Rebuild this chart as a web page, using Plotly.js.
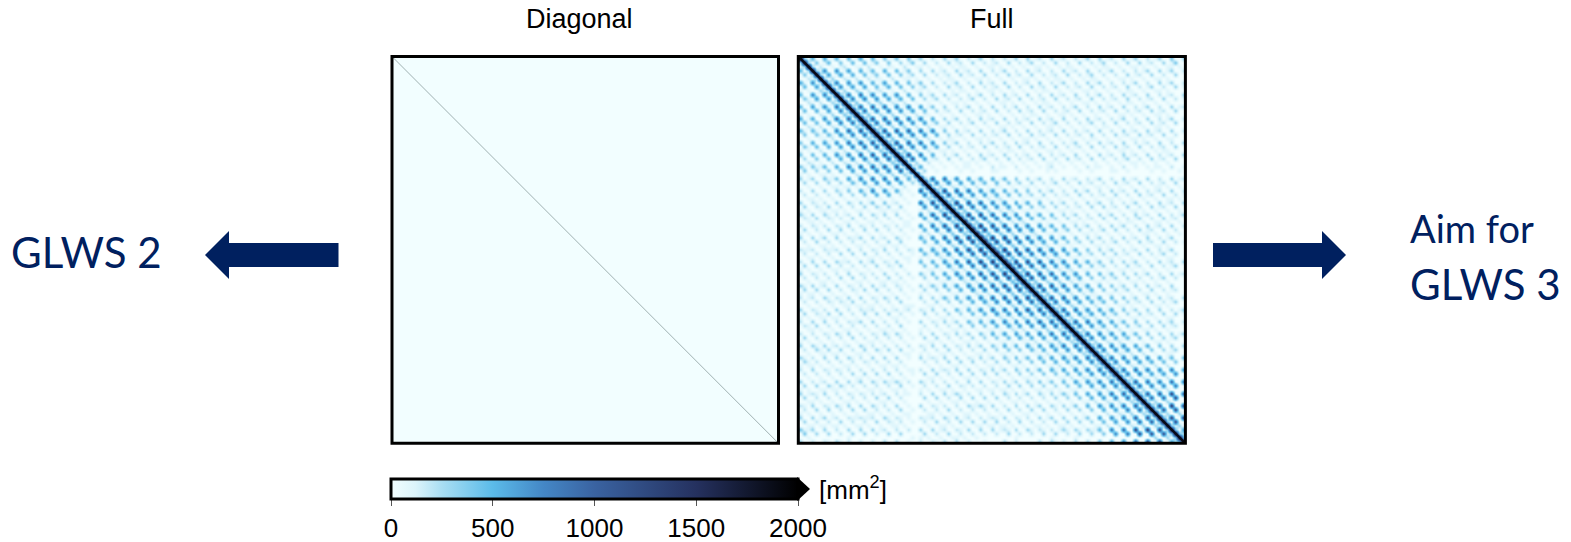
<!DOCTYPE html>
<html>
<head>
<meta charset="utf-8">
<script src="https://cdn.plot.ly/plotly-3.0.1.min.js"></script>
<style>html,body{margin:0;padding:0;background:#fff}#chart{width:1571px;height:542px}</style>
</head>
<body>
<div id="chart"></div>
<script>
// Panel titles and side labels
const panelTitles = ["Diagonal", "Full"];
const leftLabel = "GLWS 2";
const rightLabels = ["Aim for", "GLWS 3"];
const unitLabel = "[mm<sup>2</sup>]";
const colorTicks = [0, 500, 1000, 1500, 2000];

const matrixSize = 97;
const diagonalBackground = 0;
const diagonalLineEnds = [-0.5, 96.5];

// Upper triangle of the "Full" matrix.
// One base-36 character per cell, in hundreds of mm^2 (k = 2000). Each row starts on the diagonal.
const fullUpperRows = [
"k31 500 601 500 501 600 500 401 400 401 300 200 301 300 201 300 200 201 300 301 200 301 200 201 300 301 200 301 300 201 300 400 3",
"k30 401 500 400 500 501 400 400 301 400 300 200 301 200 300 201 200 300 201 300 200 300 200 300 201 300 200 300 301 200 301 400",
"k30 200 101 200 110 200 101 100 200 110 100 100 101 100 100 110 100 100 100 110 100 101 100 100 101 100 100 110 100 100 110 10",
"k31 800 801 700 601 500 600 501 400 300 301 200 301 200 300 201 300 200 301 200 200 301 200 300 201 300 200 201 300 301 300 2",
"k30 701 700 600 501 400 500 401 300 300 201 200 301 200 300 200 301 200 300 201 200 300 201 300 200 200 301 200 300 200 300",
"k30 300 210 200 201 100 200 110 100 100 101 100 100 110 100 100 100 110 100 101 100 100 101 100 100 110 100 100 110 1",
"k41 900 801 800 601 700 600 501 400 300 201 300 200 301 200 300 201 200 300 201 300 200 301 300 200 201 300 200 301 300 200",
"k30 801 700 700 501 600 500 401 300 200 301 200 300 201 200 300 200 301 200 300 201 200 300 201 200 300 201 300 200 301",
"k30 300 310 201 200 100 200 110 100 100 101 100 100 110 100 100 100 101 100 100 100 110 100 100 101 100 100 110 100",
"k41 a00 a01 900 801 800 600 401 300 301 200 201 300 200 301 200 300 200 301 200 300 201 300 200 301 200 300 201 200 301",
"k30 901 900 800 701 600 500 301 300 200 201 300 200 301 200 300 201 200 300 201 200 300 201 200 300 201 200 300 201",
"k40 400 301 300 210 200 100 100 100 110 100 100 100 110 100 100 101 100 100 100 110 100 100 101 100 100 100 100",
"k41 b00 b01 a00 901 900 701 400 300 201 300 200 300 201 300 200 301 200 201 300 200 301 200 300 201 300 200 301 200",
"k40 a01 900 900 801 700 500 301 200 300 201 200 300 200 301 200 300 201 200 300 201 200 300 201 200 301 200 300",
"k40 400 310 300 200 201 100 100 100 100 110 100 100 100 101 100 100 110 100 100 100 100 110 100 100 110 100",
"k51 c00 b01 b00 a01 900 600 301 300 200 301 200 300 201 200 301 200 300 200 301 200 201 300 200 300 201 300 200",
"k40 a01 a00 900 800 701 400 300 201 300 200 300 201 200 300 201 300 200 201 300 200 300 201 200 301 200 300",
"k40 400 301 300 200 200 110 100 100 100 100 110 100 100 100 110 100 100 100 101 100 100 100 100 110 100",
"k51 c00 c01 b00 a01 900 400 301 200 300 201 300 200 300 201 200 300 201 200 300 200 301 200 301 200 300 201",
"k40 b00 a01 900 800 600 301 200 300 201 200 300 200 301 200 300 201 200 300 200 301 200 301 200 300 200",
"k40 400 310 300 200 101 100 100 110 100 100 100 110 100 100 100 100 101 100 100 100 110 100 100 110",
"k51 c00 b01 a00 800 401 300 200 201 300 200 301 200 300 200 201 300 200 301 200 300 201 200 300 200 301",
"k40 b01 900 801 600 300 201 200 300 201 200 300 201 200 300 201 200 300 200 301 200 300 201 200 300",
"k40 400 300 200 110 100 100 100 100 101 100 100 100 110 100 100 100 100 100 110 100 100 101 100",
"k51 c00 a00 600 201 300 200 301 200 300 201 200 300 201 200 300 200 301 200 301 200 300 201 200 300",
"k40 b00 701 200 300 200 201 300 200 300 201 200 300 200 301 200 300 200 201 300 200 301 200 300",
"k30 300 200 100 100 110 100 100 100 100 100 100 110 100 100 100 100 100 100 110 100 100 100",
"k31 600 100 100 101 100 100 201 100 200 100 101 200 100 100 201 100 100 200 100 101 100 200 100",
"k20 300 100 000 100 100 001 100 000 100 100 010 100 000 100 100 001 100 100 000 100 100 010",
"k30 000 000 000 000 000 000 000 000 000 000 000 000 000 000 000 000 000 000 000 000 000 000",
"k41 b00 a01 800 701 600 601 500 400 301 300 200 301 200 201 300 200 301 200 300 200 301 200",
"k40 901 800 700 601 500 500 401 300 300 201 300 200 301 200 200 301 200 300 201 200 300 201",
"k30 300 210 200 200 101 100 100 110 100 100 100 100 100 110 100 100 100 100 110 100 100 100",
"k51 d00 b01 a00 801 700 601 500 400 301 300 200 301 300 200 301 200 300 201 200 300 201",
"k40 b01 a00 800 701 600 500 401 300 300 201 200 300 201 200 300 200 301 200 300 201 300",
"k40 400 310 200 201 200 100 100 110 100 100 100 100 100 110 100 100 100 100 110 100 100",
"k51 e00 c01 b00 901 800 701 600 500 301 300 200 301 300 200 201 300 200 301 200 300",
"k40 c01 a00 900 801 700 600 401 300 300 201 200 300 301 200 300 200 301 200 300 201",
"k40 400 410 300 201 200 110 100 100 110 100 100 100 100 100 110 100 100 100 100 110",
"k51 e00 d01 b00 a01 900 701 600 500 301 300 200 301 300 200 301 200 300 201 300",
"k40 c01 b00 a00 801 700 600 401 300 300 201 200 300 300 201 300 200 301 200 300",
"k40 400 410 300 201 200 110 100 100 110 100 100 100 101 100 100 110 100 100",
"k51 f00 d01 c00 a01 900 801 600 500 301 300 200 301 300 200 301 200 300 201",
"k40 d01 b00 a00 901 800 600 501 400 300 201 300 300 200 301 200 300 200",
"k50 500 410 300 201 200 110 100 100 110 100 100 100 100 110 100 100 100",
"k61 f00 e01 c00 b01 900 801 600 400 301 300 200 301 200 300 201 300",
"k50 d01 c00 a00 901 700 600 401 300 300 201 300 200 301 200 300 201",
"k50 500 410 300 201 200 110 100 100 110 100 100 100 100 110 100",
"k61 f00 d01 c00 b01 a00 801 600 400 301 300 201 200 300 201 300",
"k50 d01 c00 a00 901 800 600 401 300 300 301 200 300 201 300 200",
"k50 500 410 300 201 200 110 100 100 110 100 100 100 100 110",
"k61 f00 d01 c00 a01 900 701 601 400 300 301 300 200 301 200 300",
"k50 d01 b00 a00 801 700 500 401 300 200 301 200 300 201 300",
"k50 500 410 300 201 200 110 100 100 110 100 100 100 100",
"k61 e00 c01 b00 901 800 600 501 400 300 301 300 200 301 200",
"k50 c01 a00 900 701 600 400 301 300 300 200 201 300 200",
"k50 400 310 300 201 100 110 100 100 110 100 100 100",
"k51 d00 c01 a00 801 700 500 401 300 300 301 200 300",
"k40 b01 900 800 601 500 400 301 300 200 300 201 200",
"k40 400 310 200 201 100 110 100 100 110 100 100",
"k51 c00 b01 900 701 600 500 401 300 300 301 200 3",
"k40 a01 900 700 601 500 400 301 200 300 201 300",
"k40 300 310 200 200 100 110 100 100 110 100",
"k51 b00 a01 800 701 600 401 300 300 300 201 3",
"k40 a00 801 700 601 400 300 301 200 300 301",
"k40 300 310 200 200 100 110 100 100 110",
"k51 b00 a01 800 701 500 400 300 301 300 2",
"k40 900 801 600 500 401 300 300 301 200",
"k40 300 210 200 200 100 110 100 100",
"k51 a00 901 800 701 500 400 300 301 3",
"k40 900 700 601 500 400 300 301 300",
"k40 300 210 200 100 100 110 100",
"k51 a00 901 800 701 600 400 300 3",
"k40 900 801 700 600 400 301 300",
"k40 300 210 200 200 100 110",
"k51 a00 901 800 800 701 500 5",
"k40 900 800 701 600 500 400",
"k40 300 210 200 200 200",
"k51 a00 a01 900 800 900 7",
"k40 900 900 701 700 800",
"k40 300 210 200 200",
"k51 b00 a01 900 a00 9",
"k40 a00 900 800 900",
"k40 300 310 200",
"k51 b00 b01 d00 b",
"k40 a00 a00 c00",
"k40 300 310",
"k51 c00 e00 d",
"k40 b00 c00",
"k40 300 3",
"k51 d00 e",
"k40 c00",
"k41 3",
"k40 7",
"k42",
"k5",
"k"
];

const W = 1571, H = 542;
const px = x => x / W;
const py = y => 1 - y / H;
const pathOf = pts => "M" + pts.map(p => px(p[0]) + "," + py(p[1])).join(" L") + " Z";

// Decode the rows into a symmetric matrix, in mm^2
const fullZ = Array.from({length: matrixSize}, () => new Array(matrixSize).fill(0));
fullUpperRows.forEach((row, i) => {
  const cells = row.replace(/ /g, "");
  for (let d = 0; d < cells.length && i + d < matrixSize; d++) {
    const v = parseInt(cells[d], 36) * 100;
    fullZ[i][i + d] = v;
    fullZ[i + d][i] = v;
  }
});
const diagonalZ = Array.from({length: matrixSize}, () => new Array(matrixSize).fill(diagonalBackground));

const navy = "#00205f";
const textFont = "Liberation Sans, Arial, sans-serif";
const sideFont = "Lato, Carlito, sans-serif";

const axisBase = {
  showticklabels: false, ticks: "", showgrid: false, zeroline: false, showline: false,
  range: [-0.5, 96.5]
};
const yAxisBase = Object.assign({}, axisBase, {range: [96.5, -0.5]});

const traces = [
  {type: "heatmap", z: diagonalZ, xaxis: "x", yaxis: "y", coloraxis: "coloraxis", hoverinfo: "skip"},
  {type: "scatter", mode: "lines", x: diagonalLineEnds, y: diagonalLineEnds, xaxis: "x", yaxis: "y",
   line: {color: "#9fb0b1", width: 1}, hoverinfo: "skip", showlegend: false},
  {type: "heatmap", z: fullZ, xaxis: "x2", yaxis: "y2", coloraxis: "coloraxis", zsmooth: "best", hoverinfo: "skip"},
  {type: "scatter", mode: "lines", x: diagonalLineEnds, y: diagonalLineEnds, xaxis: "x2", yaxis: "y2",
   line: {color: "#070a16", width: 2.5}, hoverinfo: "skip", showlegend: false}
];

const sideAnn = (text, x, y, size) => ({
  text, x: px(x), y: py(y), xref: "paper", yref: "paper", xanchor: "left", yanchor: "middle",
  showarrow: false, font: {family: sideFont, size, color: navy}
});
const panelTop = 56.5, panelBottom = 443.3;
const frame = (x0, x1) => ({
  type: "rect", xref: "paper", yref: "paper", layer: "above",
  x0: px(x0), x1: px(x1), y0: py(panelBottom), y1: py(panelTop),
  line: {color: "#000", width: 3}, fillcolor: "rgba(0,0,0,0)"
});

const layout = {
  width: W, height: H,
  margin: {l: 0, r: 0, t: 0, b: 0, autoexpand: false},
  paper_bgcolor: "#fff", plot_bgcolor: "#fff",
  showlegend: false,
  font: {family: textFont, color: "#000"},
  xaxis: Object.assign({}, axisBase, {domain: [px(392), px(778.5)]}),
  yaxis: Object.assign({}, yAxisBase, {domain: [py(panelBottom), py(panelTop)]}),
  xaxis2: Object.assign({}, axisBase, {domain: [px(798.3), px(1185.4)]}),
  yaxis2: Object.assign({}, yAxisBase, {domain: [py(panelBottom), py(panelTop)]}),
  coloraxis: {
    cmin: 0, cmax: 2000,
    colorscale: [
      [0, "#f2feff"], [0.06, "#dcf4fb"], [0.125, "#a9def3"], [0.25, "#5bbbe9"],
      [0.375, "#4487c6"], [0.5, "#3a63a1"], [0.75, "#25315f"], [1, "#000000"]
    ],
    colorbar: {
      orientation: "h", x: px(391), xanchor: "left", y: py(478.5), yanchor: "top",
      lenmode: "pixels", len: 407, thicknessmode: "pixels", thickness: 20,
      xpad: 0, ypad: 0, outlinewidth: 3, outlinecolor: "#000", borderwidth: 0,
      ticks: "outside", ticklen: 6, tickcolor: "#555", tickwidth: 1,
      tickmode: "array", tickvals: colorTicks, ticktext: colorTicks.map(String),
      tickfont: {family: textFont, size: 26, color: "#000"}
    }
  },
  shapes: [
    frame(392, 778.5),
    frame(798.3, 1185.4),
    {type: "path", xref: "paper", yref: "paper", fillcolor: "#000", line: {width: 0},
     path: pathOf([[797, 477], [810, 489], [797, 501]])},
    {type: "path", xref: "paper", yref: "paper", fillcolor: navy, line: {width: 0},
     path: pathOf([[205, 255], [229, 231], [229, 243], [338.5, 243], [338.5, 267], [229, 267], [229, 279]])},
    {type: "path", xref: "paper", yref: "paper", fillcolor: navy, line: {width: 0},
     path: pathOf([[1346, 255], [1322, 231], [1322, 243], [1213, 243], [1213, 267], [1322, 267], [1322, 279]])}
  ],
  annotations: [
    {text: panelTitles[0], x: px(579), y: py(19), xref: "paper", yref: "paper", xanchor: "center", yanchor: "middle",
     showarrow: false, font: {family: textFont, size: 27, color: "#000"}},
    {text: panelTitles[1], x: px(992), y: py(19), xref: "paper", yref: "paper", xanchor: "center", yanchor: "middle",
     showarrow: false, font: {family: textFont, size: 27, color: "#000"}},
    {text: unitLabel, x: px(817), y: py(488), xref: "paper", yref: "paper", xanchor: "left", yanchor: "middle",
     showarrow: false, font: {family: textFont, size: 26, color: "#000"}},
    sideAnn(leftLabel, 9, 252, 42),
    sideAnn(rightLabels[0], 1408, 228, 38),
    sideAnn(rightLabels[1], 1408, 284, 42)
  ]
};

Plotly.newPlot("chart", traces, layout, {displayModeBar: false, staticPlot: true});
</script>
</body>
</html>
